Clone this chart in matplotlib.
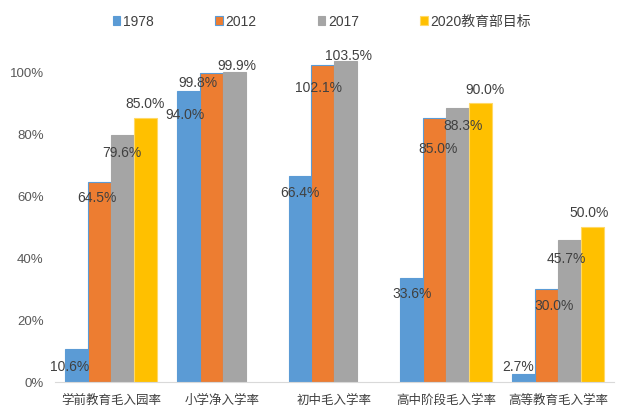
import numpy as np
import matplotlib
matplotlib.use("Agg")
import matplotlib.pyplot as plt

plt.rcParams['font.family'] = ['Noto Sans CJK SC', 'DejaVu Sans']

categories = ["学前教育毛入园率", "小学净入学率", "初中毛入学率", "高中阶段毛入学率", "高等教育毛入学率"]
series_names = ["1978", "2012", "2017", "2020教育部目标"]
v1978 = [10.6, 94.0, 66.4, 33.6, 2.7]
v2012 = [64.5, 99.8, 102.1, 85.0, 30.0]
v2017 = [79.6, 99.9, 103.5, 88.3, 45.7]
v2020 = [85.0, np.nan, np.nan, 90.0, 50.0]
yticks = [0, 20, 40, 60, 80, 100]

colors = ["#5B9BD5", "#ED7D31", "#A5A5A5", "#FFC000"]
edges = ["#5B9BD5", "#5B9BD5", "#A5A5A5", "#FFD966"]
# label offsets in pixels (Excel places them oddly)
label_off = [
    [(-7, -17), (-3, -23), (0, -16), (0, -15), (-6, 8)],
    [(-2, -15), (-13, -9), (-4, -22), (3, -30), (8, -16)],
    [(0, -17), (3, 7), (3, 6), (5, -17), (-3, -18)],
    [(0, 15), (0, 0), (0, 0), (4, 14), (-3, 15)],
]

fig = plt.figure(figsize=(6.17, 4.06), dpi=100)
ax = fig.add_axes([0.089, 0.0567, 0.906, 0.84])

x = np.arange(len(categories))
w = 0.205
for i, vals in enumerate([v1978, v2012, v2017, v2020]):
    vals = np.array(vals, dtype=float) / 100
    bars = ax.bar(x + (i - 1.5) * w, vals, w, color=colors[i], edgecolor=edges[i],
                  linewidth=0.8, label=series_names[i])
    for j, b in enumerate(bars):
        if np.isnan(vals[j]):
            continue
        ax.annotate(f"{vals[j]*100:.1f}%", (b.get_x() + b.get_width() / 2, vals[j]),
                    xytext=label_off[i][j], textcoords="offset pixels",
                    ha="center", va="center", fontsize=10, color="#404040",
                    family="Liberation Sans")

ax.set_xlim(-0.5, len(categories) - 0.5)
ax.set_ylim(0, 1.1)
ax.set_yticks([t / 100 for t in yticks])
ax.set_yticklabels([f"{t}%" for t in yticks], fontsize=9.5, color="#595959",
                   family="Liberation Sans")
ax.set_xticks(x)
ax.set_xticklabels(categories, fontsize=9, color="#404040")
ax.tick_params(length=0, pad=8)
for s in ["top", "right", "left"]:
    ax.spines[s].set_visible(False)
ax.spines["bottom"].set_color("#D9D9D9")

leg = fig.legend(loc="center", bbox_to_anchor=(0.522, 0.945), ncol=4, frameon=False,
                 prop={"family": ["Liberation Sans", "Noto Sans CJK SC"], "size": 10},
                 handlelength=0.55, handleheight=0.55, handletextpad=0.2,
                 columnspacing=4.4)
for t in leg.get_texts():
    t.set_color("#404040")

fig.savefig("out.png", dpi=100)
